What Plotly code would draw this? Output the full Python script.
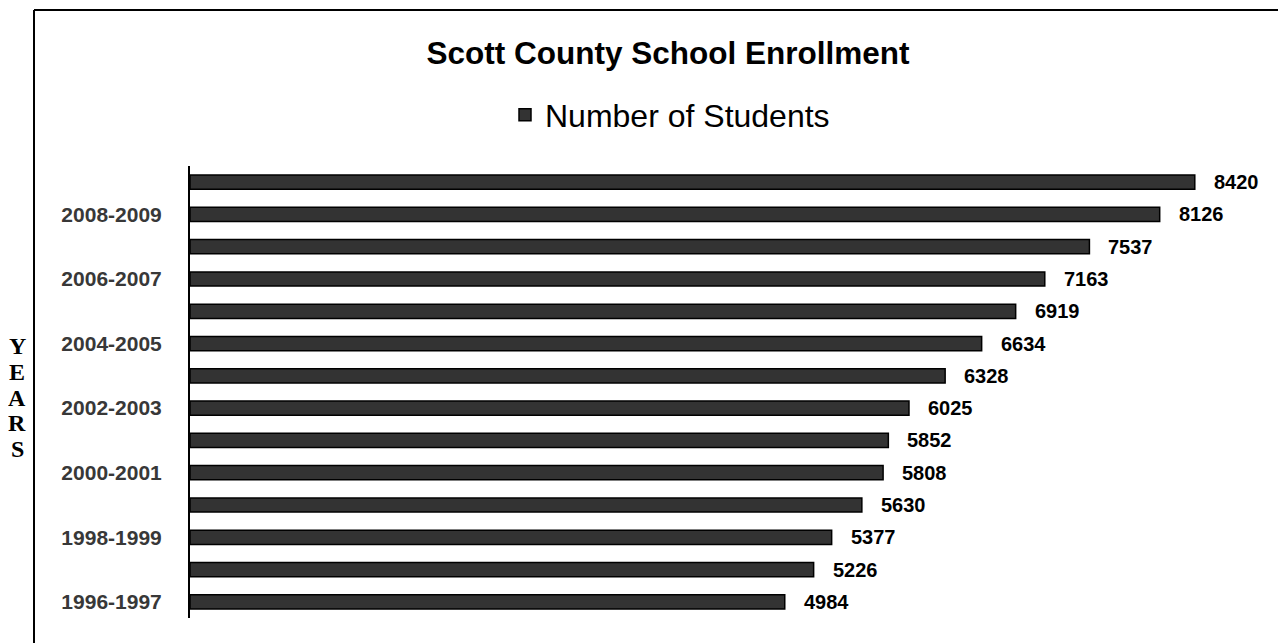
import plotly.graph_objects as go

years = ["1996-1997", "1997-1998", "1998-1999", "1999-2000", "2000-2001", "2001-2002",
         "2002-2003", "2003-2004", "2004-2005", "2005-2006", "2006-2007", "2007-2008",
         "2008-2009", "2009-2010"]
students = [4984, 5226, 5377, 5630, 5808, 5852, 6025, 6328, 6634, 6919, 7163, 7537, 8126, 8420]
shown_ticks = ["1996-1997", "1998-1999", "2000-2001", "2002-2003", "2004-2005", "2006-2007", "2008-2009"]
axis_title_letters = ["Y", "E", "A", "R", "S"]

FW, FH = 1278, 635
L, R, T, B = 182, 22, 158, 25
W = FW - L - R
H = FH - T - B

fig = go.Figure()
fig.add_trace(go.Bar(
    x=students, y=years, orientation="h", name="Number of Students",
    marker=dict(color="#333333", line=dict(color="#000000", width=1.5)),
    showlegend=True,
))

for v, yr in zip(students, years):
    fig.add_annotation(x=v, y=yr, xref="x", yref="y", text="<b>%d</b>" % v,
                       showarrow=False, xanchor="left", yanchor="middle", xshift=17,
                       font=dict(family="Liberation Sans, Arial", size=20, color="#000000"))

fig.update_layout(
    width=FW, height=FH,
    margin=dict(l=L, r=R, t=T, b=B),
    paper_bgcolor="white", plot_bgcolor="white",
    bargap=0.56,
    title=dict(text="<b>Scott County School Enrollment</b>", x=660 / FW, xanchor="center",
               y=1 - 45 / FH, yanchor="middle",
               font=dict(family="Liberation Sans, Arial", size=31.5, color="#000000")),
    legend=dict(orientation="h", x=(662 - L) / W, xanchor="center",
                y=(FH - B - 107) / H, yanchor="middle",
                font=dict(family="Liberation Sans, Arial", size=32, color="#000000"),
                itemwidth=30),
    xaxis=dict(range=[0, 9000], visible=False, showgrid=False, zeroline=False),
    yaxis=dict(type="category", categoryorder="array", categoryarray=years,
               tickmode="array", tickvals=shown_ticks,
               ticktext=["<b>%s</b>" % t for t in shown_ticks],
               showline=True, linecolor="#000000", linewidth=2, ticks="",
               ticklabelstandoff=22, showgrid=False,
               tickfont=dict(family="Liberation Sans, Arial", size=21, color="#383838")),
    font=dict(family="Liberation Sans, Arial"),
)

# YEARS vertical axis title, stacked letters
for i, ch in enumerate(axis_title_letters):
    yc = 338 + i * 25.75
    fig.add_annotation(text="<b>%s</b>" % ch, xref="paper", yref="paper",
                       x=(9 - L) / W, y=(FH - B - yc) / H,
                       xanchor="center", yanchor="middle", showarrow=False,
                       font=dict(family="Liberation Serif, Times New Roman", size=24, color="#000000"))

# frame (left and top edges)
fx0 = (26 - L) / W
fy1 = (FH - B - 2) / H
fy0 = (FH - B - 700) / H
fx1 = (1400 - L) / W
fig.add_shape(type="line", xref="paper", yref="paper", x0=fx0, x1=fx0, y0=fy0, y1=fy1,
              line=dict(color="#000000", width=2))
fig.add_shape(type="line", xref="paper", yref="paper", x0=fx0, x1=fx1, y0=fy1, y1=fy1,
              line=dict(color="#000000", width=2))

fig.write_html("out.html")
